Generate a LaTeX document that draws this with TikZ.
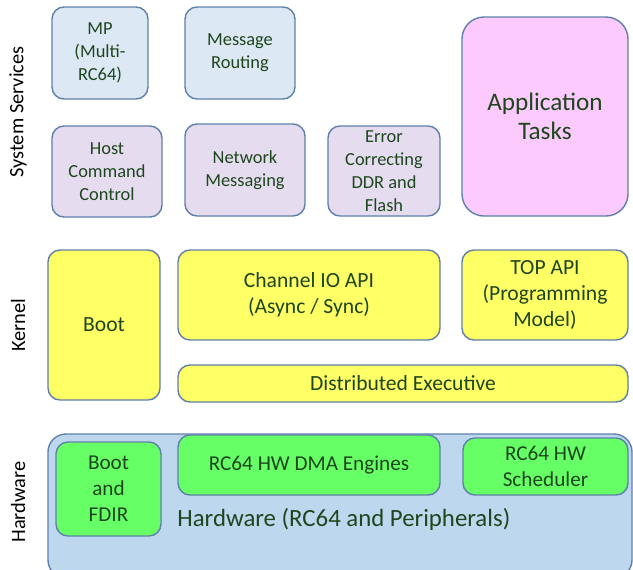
\documentclass[tikz,border=0pt]{standalone}
\usepackage{fontspec}
\setmainfont{Carlito}
\usepackage{tikz}
\usetikzlibrary{positioning}

\definecolor{edgeblue}{RGB}{95,128,170}
\definecolor{txtgreen}{RGB}{30,70,30}
\definecolor{svcblue}{RGB}{220,232,244}
\definecolor{svclilac}{RGB}{230,220,240}
\definecolor{apppink}{RGB}{252,202,252}
\definecolor{kernyellow}{RGB}{255,255,102}
\definecolor{hwgreen}{RGB}{102,255,102}
\definecolor{hwblue}{RGB}{189,215,238}

\begin{document}
\begin{tikzpicture}[x=0.5pt, y=-0.5pt,
				box/.style={rectangle, rounded corners=6pt, draw=edgeblue, line width=0.7pt, align=center, inner sep=0pt, text=txtgreen, font=\fontsize{9.2}{11.5}\selectfont},
				svc/.style={box, fill=svcblue},
				lilac/.style={box, fill=svclilac},
				app/.style={box, fill=apppink, rounded corners=11pt, font=\fontsize{12.6}{14.5}\selectfont},
				kern/.style={box, fill=kernyellow, font=\fontsize{10.8}{13}\selectfont},
				hw/.style={box, fill=hwgreen, font=\fontsize{10.6}{13}\selectfont},
				layer/.style={rotate=90, font=\fontsize{10.2}{12}\selectfont}
			]
			\clip (0,0) rectangle (633,569);
			% system services
			\node[svc, minimum width=48pt, minimum height=46pt] (mp) at (100,53) {MP\\(Multi-\\RC64)};
			\node[svc, minimum width=55pt, minimum height=46pt] (routing) at (240,53) {Message\\Routing};
			\node[lilac, minimum width=55pt, minimum height=45.5pt] (host) at (107,171.5) {Host\\Command\\Control};
			\node[lilac, minimum width=60pt, minimum height=46pt] (netmsg) at (245,170) {Network\\Messaging};
			\node[lilac, minimum width=56pt, minimum height=45pt] (ecc) at (384,171) {Error\\Correcting\\DDR and\\Flash};
			\node[app, minimum width=83pt, minimum height=99.5pt] (apptasks) at (545,116.5) {Application\\Tasks};
			% kernel
			\node[kern, minimum width=56pt, minimum height=75pt] (boot) at (104,325) {Boot};
			\node[kern, minimum width=131pt, minimum height=45pt] (chanio) at (309,295) {Channel IO API\\(Async / Sync)};
			\node[kern, minimum width=83pt, minimum height=45pt] (topapi) at (545,295) {TOP API\\(Programming\\Model)};
			\node[kern, minimum width=225pt, minimum height=18.5pt] (distexec) at (403,383.5) {Distributed Executive};
			% hardware
			\node[box, fill=hwblue, rounded corners=9pt, minimum width=292pt, minimum height=72pt] (hwbase) at (340,506) {};
			\node[anchor=west, text=txtgreen, font=\fontsize{12.4}{14}\selectfont, inner sep=0pt] (hwlabel) at (177,519) {Hardware (RC64 and Peripherals)};
			\node[hw, minimum width=52.5pt, minimum height=47pt] (bootfdir) at (108.5,489) {Boot\\and\\FDIR};
			\node[hw, minimum width=131pt, minimum height=30pt] (dma) at (309,465) {RC64 HW DMA Engines};
			\node[hw, minimum width=82.5pt, minimum height=28.5pt] (sched) at (545.5,466.5) {RC64 HW\\Scheduler};
			% layer names
			\node[layer] (lsvc) at (18,112) {System Services};
			\node[layer] (lkern) at (18,325) {Kernel};
			\node[layer] (lhw) at (18,502) {Hardware};
\end{tikzpicture}
\end{document}
